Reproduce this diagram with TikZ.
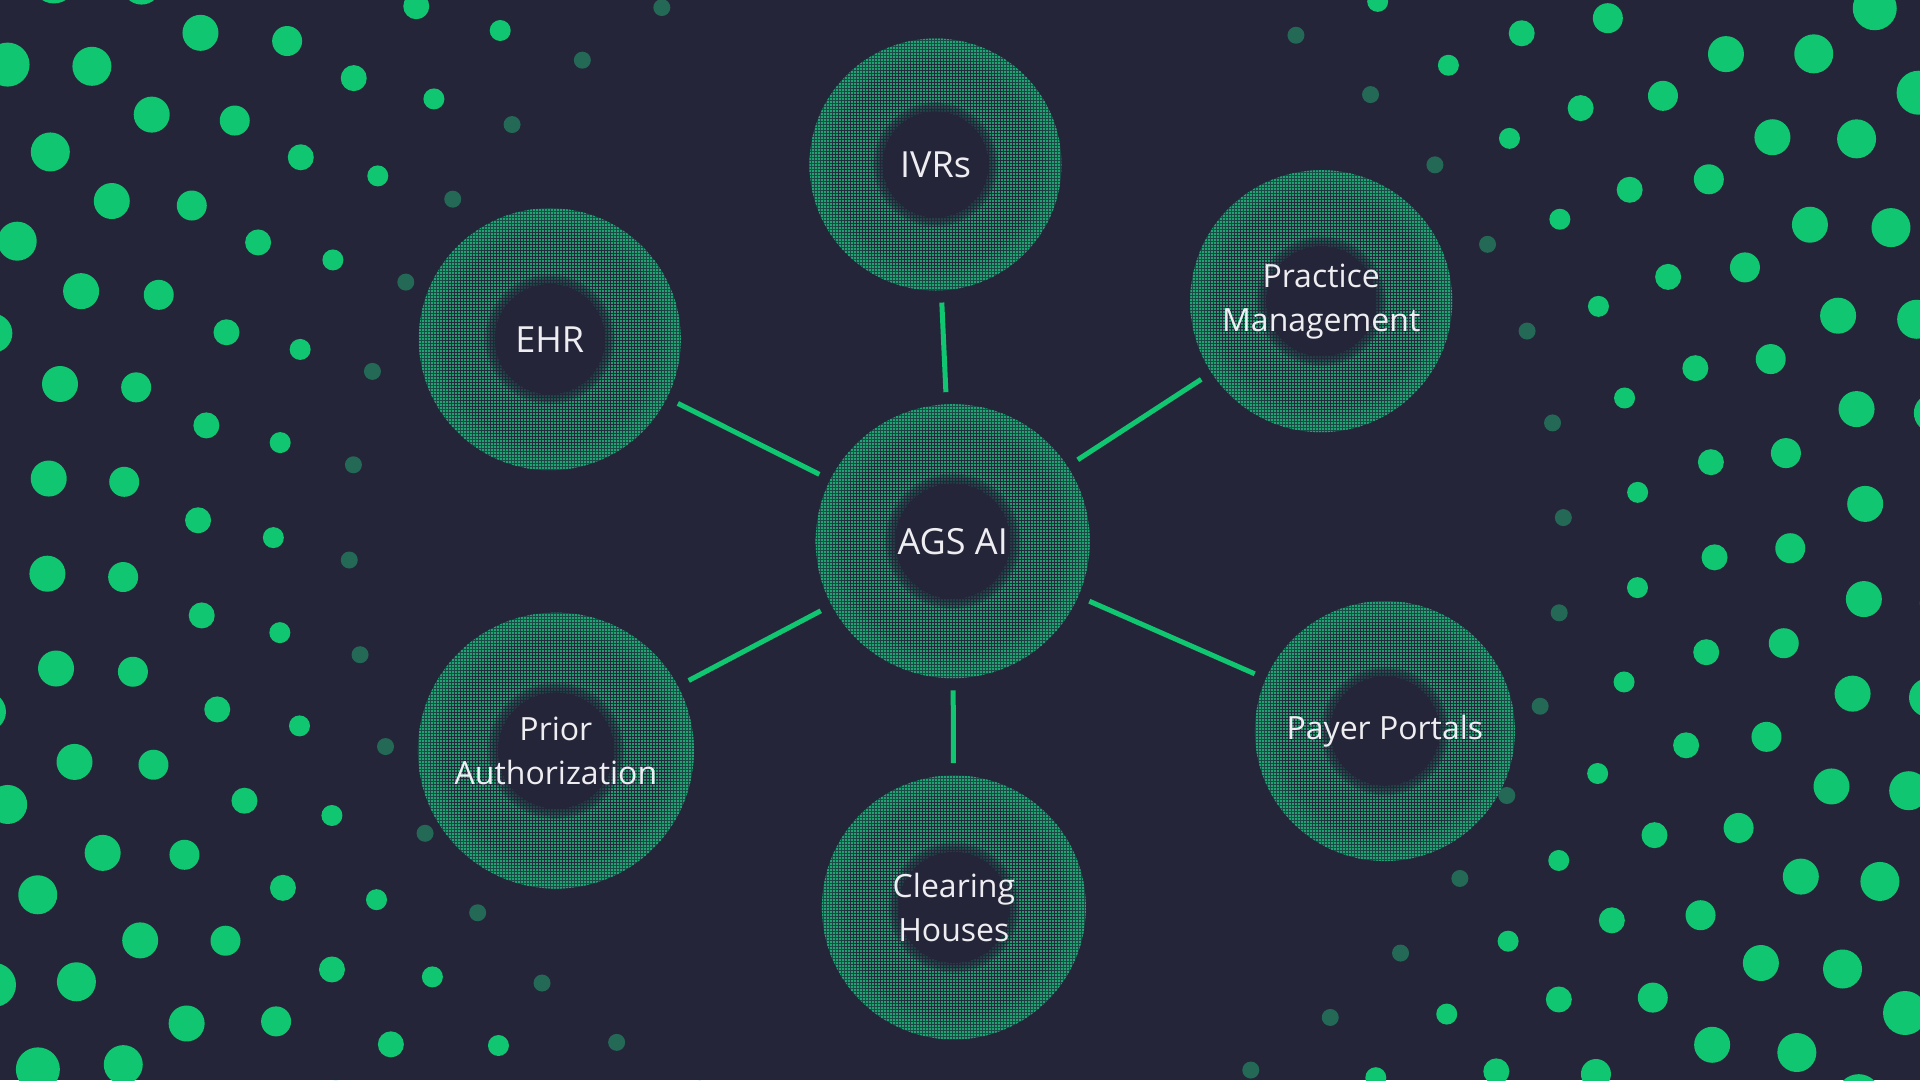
\documentclass[tikz,border=0pt]{standalone}
\usepackage{fontspec}
\setmainfont{Open Sans}
\usetikzlibrary{patterns.meta}

\definecolor{bgnavy}{RGB}{37,37,57}
\definecolor{dotgreen}{RGB}{16,198,112}
\definecolor{dotdim}{RGB}{36,104,86}
\definecolor{ringdot}{RGB}{30,200,135}
\definecolor{ringin}{RGB}{28,72,68}
\definecolor{ringmid}{RGB}{22,98,80}
\definecolor{ringout}{RGB}{22,118,92}
\definecolor{ringedge}{RGB}{26,132,100}
\definecolor{labelwhite}{RGB}{238,238,242}

\pgfdeclareradialshading{ringshade}{\pgfpoint{0bp}{0bp}}{%
  color(0bp)=(bgnavy); color(20bp)=(bgnavy); color(24bp)=(ringin);
  color(34bp)=(ringmid); color(46bp)=(ringout); color(50bp)=(ringedge)}

\begin{document}
\begin{tikzpicture}[
    x=1pt, y=-1pt,
    % Clean styles
    sysbox/.style={
        circle,
        minimum size={2*#1pt},
        inner sep=0pt,
        shading=ringshade,
        path picture={
            \fill[pattern={Dots[distance=3pt, radius=1.05pt]}, pattern color=ringdot, even odd rule]
                (path picture bounding box.center) circle[radius=#1pt] circle[radius=0.42*#1pt];
            % soft edge of the hole
            \fill[bgnavy] (path picture bounding box.center) circle[radius=0.42*#1pt];
            \foreach \fr in {0.435,0.45,...,0.50}
                \fill[bgnavy, opacity=0.25] (path picture bounding box.center) circle[radius=\fr*#1pt];
        },
        text=labelwhite,
        align=center,
        font={\fontsize{32}{44}\selectfont}
    },
    bigtext/.style={
        font={\fontsize{36}{44}\selectfont}
    },
    link/.style={
        line width=5pt,
        dotgreen,
        shorten <=12pt,
        shorten >=12pt
    }
]

% === Canvas ===
\fill[bgnavy] (0,0) rectangle (1920,1080);
\useasboundingbox (0,0) rectangle (1920,1080);
\clip (0,0) rectangle (1920,1080);

% === Background: rings of dots ===
\coordinate (dotc) at (956.3,538.8);
\foreach \k/\num/\ph/\dr/\col in {0/40/2.0/8.5/dotdim, 1/45/3.9/10.5/dotgreen,
        2/50/5.8/13/dotgreen, 3/55/5.9/15/dotgreen, 4/60/2.2/18/dotgreen,
        5/65/1.8/19.5/dotgreen, 6/70/4.3/22/dotgreen, 7/75/2.4/24/dotgreen} {
    \pgfmathsetmacro{\rad}{607.4+75.55*\k}
    \pgfmathsetmacro{\stp}{360/\num}
    \foreach \i in {1,...,\num}
        \fill[\col] ([shift={(-\ph-\stp*\i:\rad)}]dotc) circle[radius=\dr pt];
}

% === Center: hub ===
\node[sysbox=137, bigtext] (ags) at (952.7,541.2) {AGS AI};

% === Satellites ===
\node[sysbox=126, bigtext] (ivrs) at (935.5,164.5) {IVRs};
\node[sysbox=131, bigtext] (ehr) at (549.8,339.2) {EHR};
\node[sysbox=131] (practice) at (1321.2,301.2) {Practice\\Management};
\node[sysbox=138] (prior) at (555.9,750.6) {Prior\\Authorization};
\node[sysbox=130] (payer) at (1384.9,731) {Payer Portals};
\node[sysbox=132] (clearing) at (953.9,907.4) {Clearing\\Houses};

% === Links ===
\draw[link] (ivrs) -- (ags);
\draw[link] (ehr) -- (ags);
\draw[link] (practice) -- (ags);
\draw[link] (prior) -- (ags);
\draw[link] (payer) -- (ags);
\draw[link] (clearing) -- (ags);

\end{tikzpicture}
\end{document}
